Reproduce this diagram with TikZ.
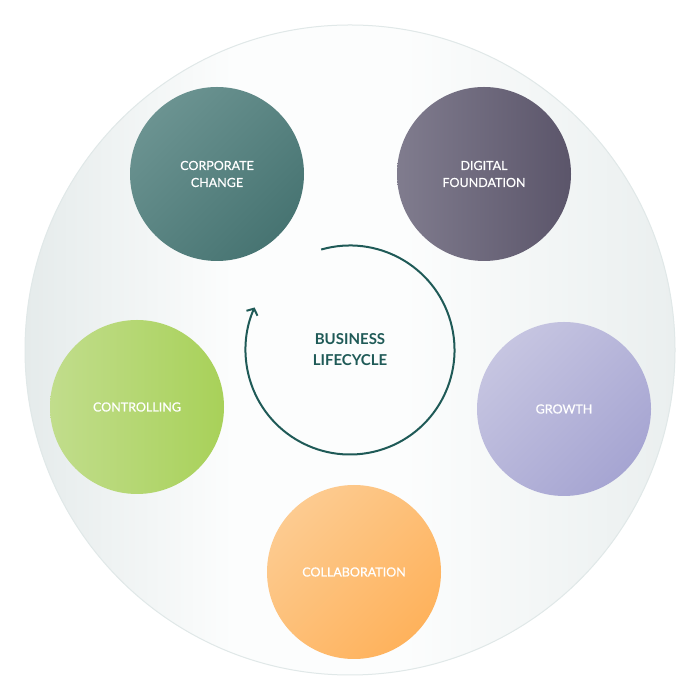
\documentclass[tikz,border=0pt]{standalone}
\usepackage{fontspec}
\setmainfont{Lato}
\newfontfamily\bubfont{Lato}[FakeBold=0.6]
\usetikzlibrary{arrows.meta}
\definecolor{arcgreen}{HTML}{1F5A57}
\definecolor{ccA}{HTML}{6B9391}
\definecolor{ccB}{HTML}{477472}
\definecolor{dfA}{HTML}{807C8E}
\definecolor{dfB}{HTML}{5B556A}
\definecolor{ctA}{HTML}{C1DD8C}
\definecolor{ctB}{HTML}{A8D159}
\definecolor{grA}{HTML}{C6C5E1}
\definecolor{grB}{HTML}{A6A5D2}
\definecolor{coA}{HTML}{FDCB90}
\definecolor{coB}{HTML}{FEB25C}
\definecolor{bgA}{HTML}{E5EBEB}
\definecolor{bgM}{HTML}{FCFDFD}
\definecolor{bgC}{HTML}{EAEFEF}
\definecolor{bgline}{HTML}{E0E8E8}
\pgfdeclarehorizontalshading{bgshade}{100bp}{color(0bp)=(bgA); color(25bp)=(bgA); color(41bp)=(bgM); color(54bp)=(bgM); color(75bp)=(bgC); color(100bp)=(bgC)}
\tikzset{
  x=1pt,y=1pt,
  bubble/.style={circle, minimum size=174pt, inner sep=0pt, text=white, align=center,
    font=\bubfont\fontsize{12.5}{17}\selectfont},
  diag/.style 2 args={top color=#1, bottom color=#2, shading angle=45},
  horiz/.style 2 args={left color=#1, right color=#2},
}
\begin{document}
\begin{tikzpicture}
\useasboundingbox (0,0) rectangle (700,700);
\fill[white] (0,0) rectangle (700,700);
\node[circle, minimum size=650pt, inner sep=0pt, draw=bgline, line width=1pt, shading=bgshade] (bg) at (350,350) {};
\coordinate (mid) at (350,350);
\node[bubble, diag={ccA}{ccB}] (cc) at (217,526) {CORPORATE\\CHANGE};
\node[bubble, horiz={dfA}{dfB}] (df) at (484,526) {DIGITAL\\FOUNDATION};
\node[bubble, horiz={ctA}{ctB}] (ct) at (137,293) {CONTROLLING};
\node[bubble, diag={grA}{grB}] (gr) at (564,291) {GROWTH};
\node[bubble, diag={coA}{coB}] (co) at (354,128) {COLLABORATION};
\draw[arcgreen, line width=2pt, -{Straight Barb[length=5pt,width=12pt]}]
  (mid) ++(106:104.5) arc[start angle=106, end angle=-204, radius=104.5];
\node[text=arcgreen, align=center, font=\fontsize{15}{21}\selectfont\bfseries] (lbl) at (mid) {BUSINESS\\LIFECYCLE};
\end{tikzpicture}
\end{document}
